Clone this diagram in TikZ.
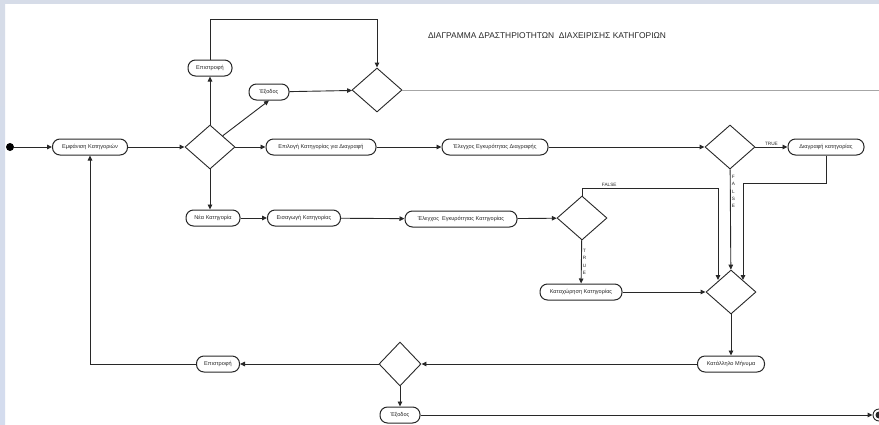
\documentclass[tikz,border=0pt]{standalone}
\usepackage{fontspec}
\setmainfont{Liberation Sans}
\usetikzlibrary{shapes.geometric, arrows.meta}

\definecolor{slidetop}{RGB}{214,220,232}
\definecolor{slidemid}{RGB}{193,209,238}
\definecolor{slidebot}{RGB}{212,220,238}
\definecolor{ink}{RGB}{40,40,40}

\tikzset{
  act/.style={draw=ink, line width=1pt, rounded corners=7.5pt, minimum height=16pt,
    inner xsep=3pt, inner ysep=0pt, text=ink, font=\fontsize{5.6}{6}\selectfont},
  choice/.style={draw=ink, diamond, line width=0.9pt, minimum width=50pt,
    minimum height=44pt, inner sep=0pt},
  flow/.style={-{Triangle[length=5pt, width=4.5pt]}, draw=ink, line width=0.9pt},
  lbl/.style={font=\fontsize{4.7}{7.3}\selectfont, text=ink, inner sep=1pt},
}

\begin{document}
\begin{tikzpicture}[x=1pt, y=-1pt]
    \clip (0,0) rectangle (879,424);
    \fill[white] (0,0) rectangle (879,424);
    % frame of the slide
    \shade[top color=slidetop, middle color=slidemid, bottom color=slidebot] (0,0) rectangle (5,424);
    \fill[slidetop] (0,0) rectangle (879,4);

    \node[font=\fontsize{8.4}{9}\selectfont, text=ink] (title) at (547,36)
        {ΔΙΑΓΡΑΜΜΑ ΔΡΑΣΤΗΡΙΟΤΗΤΩΝ\ \ ΔΙΑΧΕΙΡΙΣΗΣ ΚΑΤΗΓΟΡΙΩΝ};

    % start and first choice
    \node[circle, fill, inner sep=0pt, minimum size=8pt] (start) at (10,147) {};
    \node[act, minimum width=75pt] (show) at (90,147) {Εμφάνιση Κατηγοριών};
    \node[choice] (d1) at (210,147) {};
    \node[act, minimum width=44pt] (back1) at (210,68) {Επιστροφή};
    \node[act, minimum width=40pt] (exit1) at (269,92) {Έξοδος};
    \node[choice] (d2) at (377,90) {};
    \coordinate (loop) at (377,19);
    \coordinate (edge) at (879,90);

    \draw[flow] (start) -- (show);
    \draw[flow] (show) -- (d1);
    \draw[flow] (d1) -- (back1);
    \draw[flow] (d1.north east) -- (exit1.south);
    \draw[flow] (back1.north) |- (loop) -- (d2.north);
    \draw[flow] (exit1) -- (d2);
    \draw[gray!70, line width=0.6pt] (d2.east) -- (edge);

    % delete branch
    \node[act, minimum width=110pt] (choose) at (321,147) {Επιλογή Κατηγορίας για Διαγραφή};
    \node[act, minimum width=106pt] (checkdel) at (495,147) {Έλεγχος Εγκυρότητας Διαγραφής};
    \node[choice] (d3) at (730,147) {};
    \node[act, minimum width=76pt] (delete) at (826,147) {Διαγραφή κατηγορίας};

    \draw[flow] (d1) -- (choose);
    \draw[flow] (choose) -- (checkdel);
    \draw[flow] (checkdel) -- (d3);
    \draw[flow] (d3) -- node[lbl, above] {TRUE} (delete);

    % new category branch
    \node[act, minimum width=54pt] (newcat) at (213,218) {Νέα Κατηγορία};
    \node[act, minimum width=73pt] (insert) at (304,218) {Εισαγωγή Κατηγορίας};
    \node[act, minimum width=112pt] (checkcat) at (461,219) {Έλεγχος\ \ Εγκυρότητας Κατηγορίας};
    \node[choice] (d4) at (582,218) {};
    \node[act, minimum width=82pt] (register) at (581,292) {Καταχώρηση Κατηγορίας};
    \node[choice] (d5) at (731,292) {};
    \coordinate (d5l) at (718,280);
    \coordinate (d5r) at (743,280);
    \coordinate (falsebend) at (718,188);
    \coordinate (delbend) at (743,183);

    \draw[flow] (d1.south) -- (d1.south |- newcat.north);
    \draw[flow] (newcat) -- (insert);
    \draw[flow] (insert) -- (checkcat);
    \draw[flow] (checkcat) -- (d4);
    \draw[flow] (d4.north) |- node[lbl, above, pos=0.6] {FALSE} (falsebend) -- (d5l);
    \draw[flow] (d4) -- node[lbl, right, align=center] {T\\R\\U\\E} (register);
    \draw[flow] (register) -- (d5);
    \draw[flow] (d3) -- node[lbl, right, align=center, pos=0.22] {F\\A\\L\\S\\E} (d5);
    \draw[flow] (delete.south) |- (delbend) -- (d5r);

    % message and exit
    \node[act, minimum width=67pt] (message) at (731,364) {Κατάλληλο Μήνυμα};
    \node[choice, minimum width=42pt] (d6) at (400,364) {};
    \node[act, minimum width=43pt] (back2) at (218,364) {Επιστροφή};
    \node[act, minimum width=40pt] (exit2) at (400,415) {Έξοδος};
    \node[circle, draw=ink, line width=0.9pt, minimum size=12pt, inner sep=0pt] (end) at (879,415) {};
    \fill[ink] (end) circle (3.5pt);

    \draw[flow] (d5) -- (message);
    \draw[flow] (message) -- (d6);
    \draw[flow] (d6) -- (back2);
    \draw[flow] (back2.west) -| (show.south);
    \draw[flow] (d6) -- (exit2);
    \draw[flow] (exit2) -- (end);
\end{tikzpicture}
\end{document}
